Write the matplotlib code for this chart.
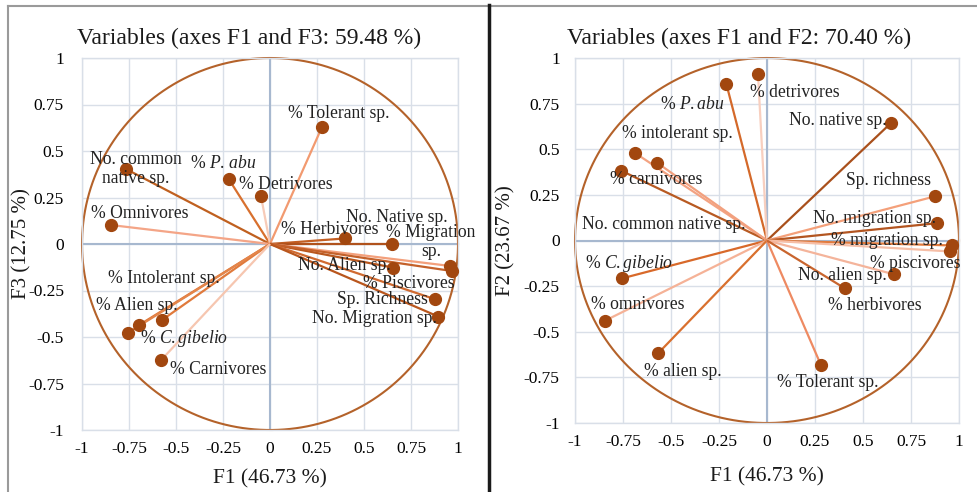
import numpy as np
import matplotlib
matplotlib.use("Agg")
import matplotlib.pyplot as plt
from matplotlib.lines import Line2D

plt.rcParams["font.family"] = ["Liberation Serif", "DejaVu Serif"]
plt.rcParams["mathtext.fontset"] = "custom"
plt.rcParams["mathtext.rm"] = "Liberation Serif"
plt.rcParams["mathtext.it"] = "Liberation Serif:italic"

# ---- Correlation loadings, axes F1 / F3 ----
f13_labels = ["No. common\nnative sp.", r"% $\it{P.\,abu}$", "% Detrivores", "% Tolerant sp.",
              "% Omnivores", "% Herbivores", "No. Native sp.", "% Migration\nsp.",
              "No. Alien sp.", "% Piscivores", "Sp. Richness", "No. Migration sp.",
              "% Intolerant sp.", "% Alien sp.", r"% $\it{C.gibelio}$", "% Carnivores"]
f13_x = [-0.766, -0.220, -0.048, 0.277, -0.846, 0.400, 0.647, 0.957,
         0.656, 0.966, 0.878, 0.895, -0.576, -0.695, -0.754, -0.580]
f13_y = [0.403, 0.350, 0.258, 0.630, 0.102, 0.030, 0.000, -0.118,
         -0.127, -0.145, -0.297, -0.390, -0.410, -0.435, -0.477, -0.625]

# ---- Correlation loadings, axes F1 / F2 ----
f12_labels = [r"% $\it{P.abu}$", "% detrivores", "No. native sp.", "% intolerant sp.",
              "% carnivores", "No. common native sp.", "Sp. richness", "No. migration sp.",
              "% migration sp.", "% piscivores", r"% $\it{C.gibelio}$", "% omnivores",
              "% alien sp.", "% Tolerant sp.", "No. alien sp.", "% herbivores"]
f12_x = [-0.212, -0.047, 0.647, -0.688, -0.760, -0.571, 0.875, 0.887,
         0.962, 0.953, -0.753, -0.845, -0.568, 0.280, 0.660, 0.405]
f12_y = [0.859, 0.914, 0.645, 0.480, 0.383, 0.425, 0.242, 0.095,
         -0.027, -0.060, -0.207, -0.440, -0.619, -0.680, -0.185, -0.262]

ticks = [-1, -0.75, -0.5, -0.25, 0, 0.25, 0.5, 0.75, 1]
tick_text = ["-1", "-0.75", "-0.5", "-0.25", "0", "0.25", "0.5", "0.75", "1"]

# Line colours and label offsets (pixels) for each arrow
f13_colors = ["#C0601F", "#D8702E", "#F7CBB8", "#F29A70", "#F4A587", "#C35E22", "#B0521C", "#F3A07C",
              "#B8571E", "#C4612A", "#D06A30", "#B9561D", "#E07A3C", "#DD7436", "#E4854A", "#F6C6B0"]
f13_off = [(10, 0), (-5, 15), (25, 12), (17, 13), (29, 12), (-15, 9), (5, 27), (-19, 24),
           (-49, 2), (-43, -13), (-53, 0), (-64, -2), (2, 42), (-3, 19), (56, -6), (57, -9)]

f12_colors = ["#D4692A", "#F8CFBF", "#A9501C", "#F3A382", "#B85A22", "#F2A07E", "#F4A07A", "#B35520",
              "#E17B3E", "#F6BEA6", "#D8692A", "#F5B297", "#D9702E", "#EE8A62", "#F4B49B", "#C9652E"]
f12_off = [(-34, -21), (37, -19), (-53, 2), (42, 19), (35, -9), (6, -62), (-46, 16), (-63, 5),
           (-65, 5), (-35, -12), (7, 15), (33, 16), (25, -18), (7, -18), (-51, -1), (30, -17)]

W, H = 977, 492
fig = plt.figure(figsize=(W / 100, H / 100), dpi=100)


def fx(px):
    return px / W


def fy(py):
    return 1 - py / H


def panel(rect, xs, ys, labels, colors, offs, title, xlabel, ylabel, title_xy, xl_y, yl_x, ytick_pad):
    ax = fig.add_axes(rect)
    ax.set_xlim(-1, 1)
    ax.set_ylim(-1, 1)
    ax.set_xticks(ticks)
    ax.set_yticks(ticks)
    ax.set_xticklabels(tick_text, fontsize=12.5)
    ax.set_yticklabels(tick_text, fontsize=12.5)
    ax.tick_params(length=0, pad=8)
    ax.tick_params(axis="y", pad=ytick_pad)
    ax.grid(True, color="#D9DFE8", lw=1.0)
    ax.set_axisbelow(True)
    for s in ax.spines.values():
        s.set_color("#D9DFE8")
        s.set_linewidth(1.0)
    ax.axhline(0, color="#A7B8CF", lw=1.5, zorder=1)
    ax.axvline(0, color="#A7B8CF", lw=1.5, zorder=1)

    t = np.linspace(0, 2 * np.pi, 400)
    ax.plot(np.cos(t), np.sin(t), color="#B4622A", lw=1.5, zorder=2, clip_on=False)

    for x, y, c in zip(xs, ys, colors):
        ax.plot([0, x], [0, y], color=c, lw=1.6, zorder=3, solid_capstyle="butt")
    ax.plot(xs, ys, "o", color="#A2470F", markersize=8.5, zorder=4, clip_on=False)

    for x, y, lab, (dx, dy) in zip(xs, ys, labels, offs):
        ax.annotate(lab, (x, y), xytext=(dx, dy), textcoords="offset pixels",
                    ha="center", va="center", fontsize=12.7, color="#222222",
                    multialignment="center", zorder=5, linespacing=1.1)

    cx = rect[0] + rect[2] / 2
    fig.text(fx(title_xy[0]), fy(title_xy[1]), title, ha="center", va="center",
             fontsize=17, color="#1a1a1a")
    fig.text(cx, fy(xl_y), xlabel, ha="center", va="center", fontsize=15.5, color="#1a1a1a")
    fig.text(fx(yl_x), rect[1] + rect[3] / 2, ylabel, ha="center", va="center",
             rotation=90, fontsize=15, color="#1a1a1a")
    return ax


# Left panel: F1 vs F3
panel([fx(82), fy(430), fx(458) - fx(82), fy(58) - fy(430)],
      f13_x, f13_y, f13_labels, f13_colors, f13_off,
      "Variables (axes F1 and F3: 59.48 %)", "F1 (46.73 %)", "F3 (12.75 %)",
      (249, 38), 479, 22, 13)

# Right panel: F1 vs F2
panel([fx(575), fy(423), fx(959) - fx(575), fy(58) - fy(423)],
      f12_x, f12_y, f12_labels, f12_colors, f12_off,
      "Variables (axes F1 and F2: 70.40 %)", "F1 (46.73 %)", "F2 (23.67 %)",
      (739, 38), 477, 506, 11)

# Frame lines around the two panels
fig.add_artist(Line2D([fx(8), 1], [fy(6), fy(6)], color="#9A9A9A", lw=1.5))
fig.add_artist(Line2D([fx(8), fx(8)], [fy(6), 0], color="#9A9A9A", lw=1.5))
fig.add_artist(Line2D([fx(489), fx(489)], [fy(5), 0], color="#1a1a1a", lw=2.5))

fig.savefig("out.png", dpi=100)
